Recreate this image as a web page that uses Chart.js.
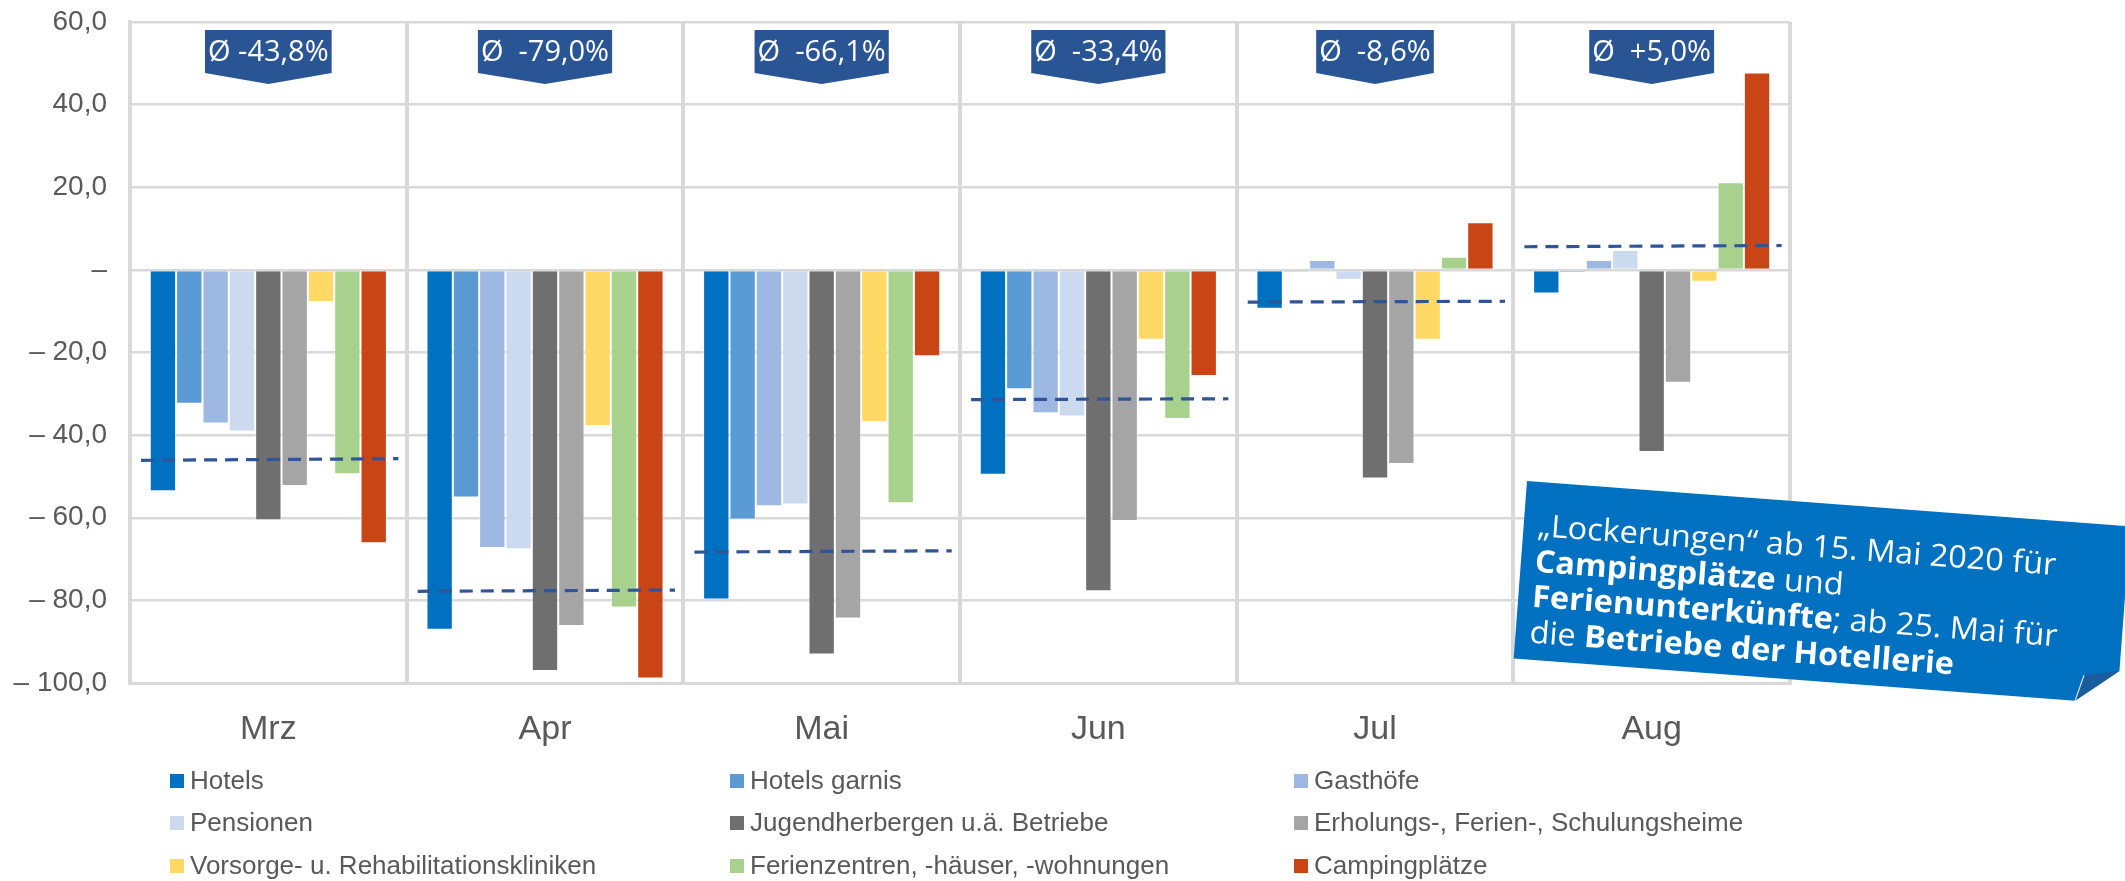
<!DOCTYPE html>
<html>
<head>
<meta charset="utf-8">
<script src="https://cdn.jsdelivr.net/npm/chart.js@4.4.1/dist/chart.umd.min.js"></script>
<style>
    html, body { margin: 0; padding: 0; background: #fff; }
    #wrap { width: 2125px; height: 881px; position: relative; }
</style>
</head>
<body>
<div id="wrap"><canvas id="chart"></canvas></div>
<script>
"use strict";

// months and series
const months = ["Mrz", "Apr", "Mai", "Jun", "Jul", "Aug"];
const seriesNames = [
    "Hotels", "Hotels garnis", "Gasthöfe",
    "Pensionen", "Jugendherbergen u.ä. Betriebe", "Erholungs-, Ferien-, Schulungsheime",
    "Vorsorge- u. Rehabilitationskliniken", "Ferienzentren, -häuser, -wohnungen", "Campingplätze"
];
const seriesColors = [
    "#0070C0", "#5B9BD5", "#9DB9E3",
    "#CCDAF0", "#6F6F6F", "#A5A5A5",
    "#FFD966", "#A9D18E", "#C94516"
];

// change vs. previous year in %
const hotels = [-53.6, -87.1, -79.8, -49.6, -9.4, -5.7];
const hotelsGarnis = [-32.4, -55.1, -60.4, -28.9, -0.5, -0.6];
const gasthoefe = [-37.2, -67.3, -57.2, -34.7, 2.4, 2.4];
const pensionen = [-39.1, -67.6, -56.8, -35.5, -2.4, 4.8];
const jugendherbergen = [-60.6, -97.1, -93.1, -77.8, -50.5, -44.1];
const erholungsheime = [-52.3, -86.2, -84.4, -60.8, -47.0, -27.3];
const kliniken = [-7.8, -37.8, -36.8, -16.9, -16.9, -2.9];
const ferienzentren = [-49.5, -81.7, -56.5, -36.1, 3.2, 21.2];
const camping = [-66.2, -98.9, -20.9, -25.7, 11.5, 47.8];

// dashed average line per month (left / right end) and the badges
const avgLeft = [-46.1, -77.8, -68.3, -31.4, -7.8, 5.6];
const avgRight = [-45.7, -77.5, -68.0, -31.2, -7.6, 5.9];
const avgLabels = ["Ø -43,8%", "Ø  -79,0%", "Ø  -66,1%", "Ø  -33,4%", "Ø  -8,6%", "Ø  +5,0%"];

const yMin = -100;
const yMax = 60;
const yStep = 20;

const noteLines = [
    [["„Lockerungen“ ab 15. Mai 2020 für", false]],
    [["Campingplätze", true], [" und", false]],
    [["Ferienunterkünfte", true], ["; ab 25. Mai für", false]],
    [["die ", false], ["Betriebe der Hotellerie", true]]
];

const allSeries = [hotels, hotelsGarnis, gasthoefe, pensionen, jugendherbergen,
    erholungsheime, kliniken, ferienzentren, camping];

const axisFont = "\"Liberation Sans\", Arial, sans-serif";
const textGray = "#595959";
const gridGray = "#D9D9D9";

// all datasets sit on one hidden linear x axis (0..6), the category axis only draws labels and grid
let datasets = allSeries.map(function (values, i) {
    return {
        type: "bar",
        label: seriesNames[i],
        data: values.map(function (v, m) {
            return {x: m + 0.5, y: v};
        }),
        xAxisID: "xl",
        backgroundColor: seriesColors[i],
        borderColor: "rgba(255,255,255,0.55)",
        borderWidth: 1,
        borderSkipped: "start",
        categoryPercentage: 0.857,
        barPercentage: 1.0,
        order: 1
    };
});

let avgPoints = [];
months.forEach(function (m, i) {
    avgPoints.push({x: i + 0.04, y: avgLeft[i]});
    avgPoints.push({x: i + 0.97, y: avgRight[i]});
    avgPoints.push({x: i + 0.985, y: null});
});

datasets.push({
    type: "line",
    label: "Durchschnitt",
    data: avgPoints,
    xAxisID: "xl",
    borderColor: "#2F5597",
    borderWidth: 3.2,
    borderDash: [13, 8],
    pointRadius: 0,
    spanGaps: false,
    fill: false,
    order: 0
});

// badges "Ø ..." at the top of every month
const badgePlugin = {
    id: "badges",
    afterDatasetsDraw: function (chart) {
        let ctx = chart.ctx;
        let xs = chart.scales.x;
        let top = chart.chartArea.top + 8;
        ctx.save();
        ctx.font = "29px \"Open Sans\", sans-serif";
        avgLabels.forEach(function (txt, i) {
            let cx = xs.getPixelForValue(i);
            let w = ctx.measureText(txt).width + 6;
            ctx.fillStyle = "#2A5595";
            ctx.beginPath();
            ctx.moveTo(cx - w / 2, top);
            ctx.lineTo(cx + w / 2, top);
            ctx.lineTo(cx + w / 2, top + 43);
            ctx.lineTo(cx, top + 54);
            ctx.lineTo(cx - w / 2, top + 43);
            ctx.closePath();
            ctx.fill();
            ctx.fillStyle = "#fff";
            ctx.textAlign = "center";
            ctx.textBaseline = "middle";
            ctx.fillText(txt, cx, top + 23);
        });
        ctx.restore();
    }
};

// legend in three columns
const legendPlugin = {
    id: "gridLegend",
    afterDraw: function (chart) {
        let ctx = chart.ctx;
        let colX = [170, 730, 1294];
        let rowY = [781, 823, 866];
        ctx.save();
        ctx.font = "26px " + axisFont;
        ctx.textBaseline = "middle";
        ctx.textAlign = "left";
        chart.data.datasets.forEach(function (ds, i) {
            if (ds.type !== "bar") {
                return;
            }
            let x = colX[i % 3];
            let y = rowY[Math.floor(i / 3)];
            ctx.fillStyle = ds.backgroundColor;
            ctx.fillRect(x, y - 7, 14, 14);
            ctx.fillStyle = textGray;
            ctx.fillText(ds.label, x + 20, y + 1);
        });
        ctx.restore();
    }
};

// blue note, slightly rotated, with folded corner
const notePlugin = {
    id: "note",
    afterDraw: function (chart) {
        let ctx = chart.ctx;
        let w = 605;
        let h = 178;
        ctx.save();
        ctx.translate(1527, 481);
        ctx.rotate(4.3 * Math.PI / 180);
        ctx.fillStyle = "#0070C0";
        ctx.beginPath();
        ctx.moveTo(0, 0);
        ctx.lineTo(w, 0);
        ctx.lineTo(w, h - 33);
        ctx.lineTo(w - 42, h);
        ctx.lineTo(0, h);
        ctx.closePath();
        ctx.fill();

        ctx.fillStyle = "#1B5C9C";
        ctx.beginPath();
        ctx.moveTo(w, h - 33);
        ctx.lineTo(w - 42, h);
        ctx.lineTo(w - 35, h - 26);
        ctx.closePath();
        ctx.fill();
        ctx.strokeStyle = "rgba(255,255,255,0.8)";
        ctx.lineWidth = 1.2;
        ctx.beginPath();
        ctx.moveTo(w - 42, h);
        ctx.lineTo(w - 35, h - 26);
        ctx.stroke();

        let baselines = [54, 90, 125, 161];
        ctx.fillStyle = "#fff";
        ctx.textBaseline = "alphabetic";
        ctx.textAlign = "left";
        let regular = "31px \"Open Sans\", sans-serif";
        let bold = "bold 31px \"Open Sans\", sans-serif";
        ctx.font = regular;
        let k = 520 / ctx.measureText(noteLines[0][0][0]).width;
        noteLines.forEach(function (line, li) {
            ctx.save();
            ctx.translate(14, baselines[li]);
            ctx.scale(k, 1);
            let x = 0;
            line.forEach(function (seg) {
                ctx.font = seg[1] ? bold : regular;
                ctx.fillText(seg[0], x, 0);
                x += ctx.measureText(seg[0]).width;
            });
            ctx.restore();
        });
        ctx.restore();
    }
};

let ctx = document.getElementById("chart").getContext("2d");
let chart = new Chart(ctx, {
    type: "bar",
    data: {
        labels: months,
        datasets: datasets
    },
    options: {
        responsive: true,
        maintainAspectRatio: false,
        animation: false,
        layout: {
            padding: {top: 22, right: 335, bottom: 131, left: 0}
        },
        plugins: {
            legend: {display: false},
            tooltip: {enabled: false}
        },
        scales: {
            x: {
                type: "category",
                labels: months,
                offset: true,
                grid: {
                    offset: true,
                    color: gridGray,
                    lineWidth: 4,
                    drawTicks: false
                },
                border: {display: true, color: gridGray, width: 3},
                ticks: {
                    color: textGray,
                    font: {family: axisFont, size: 34},
                    padding: 26
                },
                afterFit: function (scale) {
                    scale.height = 67;
                }
            },
            xl: {
                type: "linear",
                axis: "x",
                display: false,
                offset: false,
                min: 0,
                max: 6,
                grid: {offset: false},
                ticks: {stepSize: 1}
            },
            y: {
                min: yMin,
                max: yMax,
                grid: {
                    color: gridGray,
                    lineWidth: 2.5,
                    drawTicks: false
                },
                border: {display: true, color: gridGray, width: 4},
                ticks: {
                    stepSize: yStep,
                    color: textGray,
                    font: {family: axisFont, size: 28},
                    padding: 23,
                    callback: function (v) {
                        if (v === 0) {
                            return "–";
                        }
                        let s = Math.abs(v).toFixed(1).replace(".", ",");
                        return v < 0 ? "– " + s : s;
                    }
                },
                afterFit: function (scale) {
                    scale.width = 130;
                    // keep the plot top where the layout padding puts it
                    scale.paddingTop = 0;
                    scale.paddingBottom = 0;
                }
            }
        }
    },
    plugins: [badgePlugin, legendPlugin, notePlugin]
});
</script>
</body>
</html>
